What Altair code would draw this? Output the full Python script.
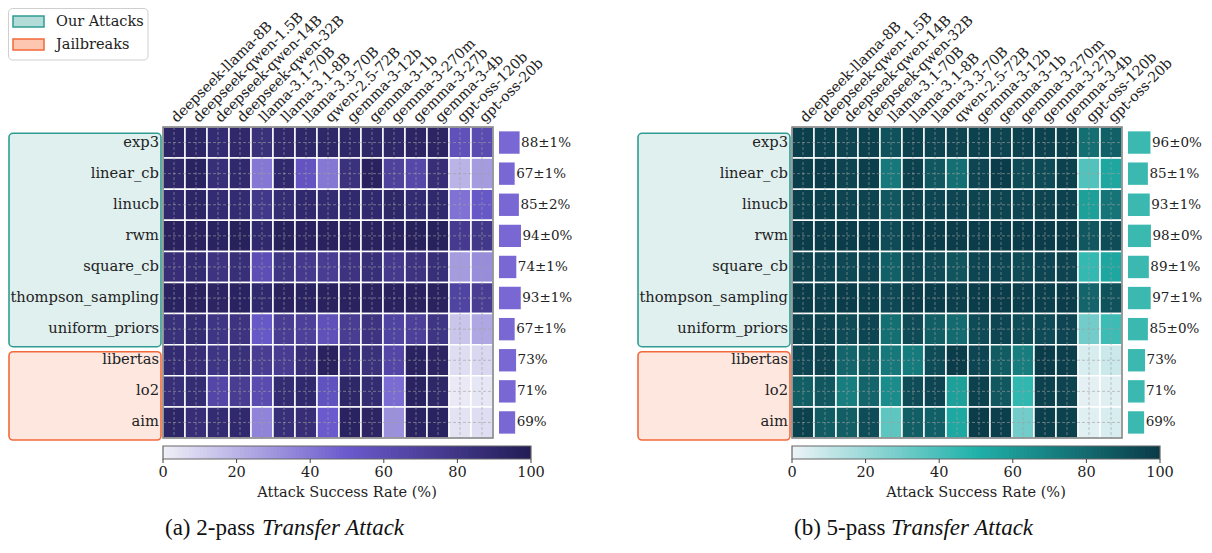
import altair as alt
import pandas as pd
import numpy as np

# ---------------- data ----------------
models = ["deepseek-llama-8B", "deepseek-qwen-1.5B", "deepseek-qwen-14B", "deepseek-qwen-32B",
          "llama-3.1-70B", "llama-3.1-8B", "llama-3.3-70B", "qwen-2.5-72B",
          "gemma-3-12b", "gemma-3-1b", "gemma-3-270m", "gemma-3-27b", "gemma-3-4b",
          "gpt-oss-120b", "gpt-oss-20b"]
attacks = ["exp3", "linear_cb", "linucb", "rwm", "square_cb", "thompson_sampling",
           "uniform_priors", "libertas", "lo2", "aim"]
n_ours = 7  # first 7 rows are "Our Attacks"

# 2-pass transfer attack (ASR %), one list per attack row
p2_exp3 = [93, 93, 88, 91, 84, 91, 92, 92, 92, 92, 92, 94, 94, 58, 62]
p2_linear_cb = [92, 95, 85, 90, 40, 90, 55, 40, 83, 96, 70, 65, 86, 20, 28]
p2_linucb = [90, 93, 88, 88, 78, 87, 90, 88, 90, 90, 92, 88, 90, 42, 52]
p2_rwm = [96, 96, 95, 97, 90, 97, 96, 96, 96, 96, 96, 97, 97, 76, 78]
p2_square_cb = [86, 88, 82, 85, 60, 80, 77, 74, 82, 85, 77, 82, 85, 28, 33]
p2_thompson = [95, 96, 94, 95, 90, 96, 95, 96, 96, 96, 96, 96, 96, 68, 74]
p2_uniform = [84, 87, 80, 82, 52, 74, 71, 58, 74, 82, 68, 71, 80, 14, 24]
p2_libertas = [88, 86, 80, 84, 74, 75, 86, 96, 88, 84, 66, 95, 94, 6, 8]
p2_lo2 = [85, 87, 66, 74, 62, 88, 90, 56, 92, 88, 44, 95, 92, 2, 3]
p2_aim = [93, 86, 88, 90, 36, 85, 86, 50, 95, 94, 32, 95, 95, 4, 6]

# 5-pass transfer attack (ASR %)
p5_exp3 = [98, 97, 96, 97, 90, 97, 96, 96, 97, 96, 97, 97, 97, 78, 84]
p5_linear_cb = [98, 99, 96, 98, 74, 97, 88, 78, 95, 99, 93, 93, 97, 38, 55]
p5_linucb = [97, 97, 96, 96, 88, 96, 95, 95, 96, 96, 95, 96, 97, 58, 76]
p5_rwm = [99, 99, 99, 99, 93, 99, 99, 99, 99, 99, 99, 99, 99, 88, 92]
p5_square_cb = [96, 95, 94, 95, 84, 94, 93, 89, 95, 95, 93, 95, 96, 45, 55]
p5_thompson = [99, 98, 99, 98, 94, 99, 99, 98, 99, 99, 98, 98, 99, 82, 90]
p5_uniform = [96, 96, 93, 95, 78, 93, 85, 80, 93, 95, 92, 93, 95, 30, 43]
p5_libertas = [95, 96, 82, 86, 74, 73, 92, 99, 95, 86, 72, 99, 98, 5, 8]
p5_lo2 = [85, 88, 72, 82, 66, 92, 95, 58, 97, 88, 46, 97, 96, 2, 3]
p5_aim = [97, 86, 85, 92, 35, 85, 84, 54, 99, 98, 30, 98, 97, 3, 5]

mean_2pass = [88, 67, 85, 94, 74, 93, 67, 73, 71, 69]
label_2pass = ["88±1%", "67±1%", "85±2%", "94±0%", "74±1%", "93±1%", "67±1%", "73%", "71%", "69%"]
mean_5pass = [96, 85, 93, 98, 89, 97, 85, 73, 71, 69]
label_5pass = ["96±0%", "85±1%", "93±1%", "98±0%", "89±1%", "97±1%", "85±0%", "73%", "71%", "69%"]

cbar_ticks = [0, 20, 40, 60, 80, 100]

rows_2pass = [p2_exp3, p2_linear_cb, p2_linucb, p2_rwm, p2_square_cb, p2_thompson,
              p2_uniform, p2_libertas, p2_lo2, p2_aim]
rows_5pass = [p5_exp3, p5_linear_cb, p5_linucb, p5_rwm, p5_square_cb, p5_thompson,
              p5_uniform, p5_libertas, p5_lo2, p5_aim]

# ---------------- layout (cell units) ----------------
CW = 22.0      # px per heatmap column
RH = 31.1      # px per heatmap row
PANEL_W = 567
PANEL_H = 531
HM_LEFT = 155  # px from panel left edge to heatmap left edge
HM_TOP = 119   # px from panel top to heatmap top


def ux(px):
    return px / CW


def uy(py):
    return py / RH


X_DOM = [ux(-HM_LEFT), ux(PANEL_W - HM_LEFT)]
Y_DOM = [uy(-HM_TOP), uy(PANEL_H - HM_TOP)]
xs = alt.Scale(domain=X_DOM, nice=False, zero=False)
ys = alt.Scale(domain=Y_DOM, nice=False, zero=False, reverse=True)

FONT = "DejaVu Serif"
CAP_FONT = "Liberation Serif"
TXT = "#222222"


def X(f="x"):
    return alt.X(f"{f}:Q", scale=xs, axis=None)


def Y(f="y"):
    return alt.Y(f"{f}:Q", scale=ys, axis=None)


def panel(rows, means, labels, cmap, bar_color, tag, show_legend):
    n_r, n_c = len(attacks), len(models)
    cscale = alt.Scale(domain=[0, 100], range=cmap, interpolate="rgb")

    cells = pd.DataFrame([{"x": c, "x2": c + 1, "y": r, "y2": r + 1, "v": rows[r][c]}
                          for r in range(n_r) for c in range(n_c)])
    heat = alt.Chart(cells).mark_rect(stroke="white", strokeWidth=1.5).encode(
        x=X(), x2="x2:Q", y=Y(), y2="y2:Q",
        color=alt.Color("v:Q", scale=cscale, legend=None))

    vgrid = pd.DataFrame({"x": [c + 0.5 for c in range(n_c)], "y": 0, "y2": n_r})
    hgrid = pd.DataFrame({"y": [r + 0.5 for r in range(n_r)], "x": 0, "x2": n_c})
    gl = dict(strokeDash=[3, 2], color="#a0a0a0", opacity=0.6, strokeWidth=1)
    vg = alt.Chart(vgrid).mark_rule(**gl).encode(x=X(), y=Y(), y2="y2:Q")
    hg = alt.Chart(hgrid).mark_rule(**gl).encode(y=Y(), x=X(), x2="x2:Q")

    frame = alt.Chart(pd.DataFrame([{"x": 0, "x2": n_c, "y": 0, "y2": n_r}])).mark_rect(
        fill=None, stroke="#7d7d7d", strokeWidth=1.5).encode(x=X(), x2="x2:Q", y=Y(), y2="y2:Q")

    # group boxes
    boxes = pd.DataFrame([
        {"x": ux(-154), "x2": ux(-2), "y": uy(6.3), "y2": uy(219.7), "g": "ours"},
        {"x": ux(-154), "x2": ux(-2), "y": uy(224.7), "y2": uy(313), "g": "jb"},
    ])
    gbox = alt.Chart(boxes).mark_rect(cornerRadius=4, strokeWidth=1.6).encode(
        x=X(), x2="x2:Q", y=Y(), y2="y2:Q",
        fill=alt.Fill("g:N", scale=alt.Scale(domain=["ours", "jb"], range=["#e0f0ef", "#fde7df"]), legend=None),
        stroke=alt.Stroke("g:N", scale=alt.Scale(domain=["ours", "jb"], range=["#2f9c93", "#f2693a"]), legend=None))

    rlab = pd.DataFrame({"t": attacks, "y": [r + 0.5 for r in range(n_r)], "x": ux(-4)})
    rowtext = alt.Chart(rlab).mark_text(align="right", baseline="middle", font=FONT,
                                        fontSize=14.7, color=TXT).encode(x=X(), y=Y(), text="t:N")

    clab = pd.DataFrame({"t": models, "x": [c + 0.5 for c in range(n_c)], "y": uy(-6.5)})
    coltext = alt.Chart(clab).mark_text(align="left", baseline="middle", angle=315, font=FONT,
                                        fontSize=14.2, color=TXT).encode(x=X(), y=Y(), text="t:N")

    # mean bars to the right
    b0 = ux(336)
    bars_df = pd.DataFrame({"m": means, "t": labels, "y": [r + 0.14 for r in range(n_r)],
                            "y2": [r + 0.86 for r in range(n_r)], "yc": [r + 0.5 for r in range(n_r)]})
    bars_df["x"] = b0
    bars_df["x2"] = b0 + bars_df["m"] * ux(0.234)
    bars_df["xt"] = bars_df["x2"] + ux(1.5)
    bars = alt.Chart(bars_df).mark_rect(color=bar_color).encode(x=X(), x2="x2:Q", y=Y(), y2="y2:Q")
    btext = alt.Chart(bars_df).mark_text(align="left", baseline="middle", font=FONT, fontSize=13.5,
                                         color=TXT).encode(x=X("xt"), y=Y("yc"), text="t:N")

    # colorbar
    CBW = ux(368)
    step = 1.0
    vv = np.arange(0, 100, step)
    cb = pd.DataFrame({"v": vv + step / 2, "x": vv * CBW / 100,
                       "x2": np.minimum((vv + step) * CBW / 100 + ux(1.5), CBW),
                       "y": uy(319), "y2": uy(332)})
    cbar = alt.Chart(cb).mark_rect(strokeWidth=0).encode(x=X(), x2="x2:Q", y=Y(), y2="y2:Q",
                                                          color=alt.Color("v:Q", scale=cscale, legend=None))
    cbframe = alt.Chart(pd.DataFrame([{"x": 0, "x2": CBW, "y": uy(319), "y2": uy(332)}])).mark_rect(
        fill=None, stroke="#666666", strokeWidth=1.2).encode(x=X(), x2="x2:Q", y=Y(), y2="y2:Q")
    tk = pd.DataFrame({"v": cbar_ticks})
    tk["x"] = tk["v"] * CBW / 100
    tk["y"] = uy(332)
    tk["y2"] = uy(336)
    tk["yt"] = uy(346)
    tk["t"] = tk["v"].astype(str)
    ticks = alt.Chart(tk).mark_rule(color="#444444", strokeWidth=1).encode(x=X(), y=Y(), y2="y2:Q")
    ticktext = alt.Chart(tk).mark_text(baseline="middle", font=FONT, fontSize=14.5, color=TXT).encode(
        x=X(), y=Y("yt"), text="t:N")
    cbt = alt.Chart(pd.DataFrame([{"x": CBW / 2, "y": uy(366), "t": "Attack Success Rate (%)"}])).mark_text(
        baseline="middle", font=FONT, fontSize=14.5, color=TXT).encode(x=X(), y=Y(), text="t:N")

    # caption
    cap = pd.DataFrame([{"x": ux(2), "y": uy(408), "t": tag}])
    cap2 = pd.DataFrame([{"x": ux(99), "y": uy(408), "t": "Transfer Attack"}])
    c1 = alt.Chart(cap).mark_text(align="left", baseline="alphabetic", font=CAP_FONT, fontSize=23,
                                  color="#111111").encode(x=X(), y=Y(), text="t:N")
    c2 = alt.Chart(cap2).mark_text(align="left", baseline="alphabetic", font=CAP_FONT, fontSize=23,
                                   fontStyle="italic", color="#111111").encode(x=X(), y=Y(), text="t:N")

    layers = [gbox, heat, vg, hg, frame, rowtext, coltext, bars, btext, cbar, cbframe, ticks,
              ticktext, cbt, c1, c2]

    if show_legend:
        lbox = alt.Chart(pd.DataFrame([{"x": ux(-154.5), "x2": ux(-15), "y": uy(-118.5), "y2": uy(-67)}])).mark_rect(
            fill="#ffffff", stroke="#cfcfcf", strokeWidth=1, cornerRadius=4).encode(
            x=X(), x2="x2:Q", y=Y(), y2="y2:Q")
        sw = pd.DataFrame([
            {"x": ux(-150), "x2": ux(-119), "y": uy(-111), "y2": uy(-100), "g": "Our Attacks", "yt": uy(-105.5)},
            {"x": ux(-150), "x2": ux(-119), "y": uy(-88), "y2": uy(-77), "g": "Jailbreaks", "yt": uy(-82.5)},
        ])
        sw["xt"] = ux(-107)
        swr = alt.Chart(sw).mark_rect(strokeWidth=1.5).encode(
            x=X(), x2="x2:Q", y=Y(), y2="y2:Q",
            fill=alt.Fill("g:N", scale=alt.Scale(domain=["Our Attacks", "Jailbreaks"],
                                                 range=["#b3dcd9", "#fdc6b1"]), legend=None),
            stroke=alt.Stroke("g:N", scale=alt.Scale(domain=["Our Attacks", "Jailbreaks"],
                                                     range=["#2f9c93", "#f2693a"]), legend=None))
        swt = alt.Chart(sw).mark_text(align="left", baseline="middle", font=FONT, fontSize=14.5,
                                      color=TXT).encode(x=X("xt"), y=Y("yt"), text="g:N")
        layers += [lbox, swr, swt]

    return alt.layer(*layers).resolve_scale(fill="independent", stroke="independent").properties(
        width=PANEL_W, height=PANEL_H)


purple = ["#efeff7", "#6a5acd", "#231d55"]
teal = ["#ecf3f7", "#20b2aa", "#0b3a48"]

left = panel(rows_2pass, mean_2pass, label_2pass, purple, "#7968d4", "(a) 2-pass ", True)
right = panel(rows_5pass, mean_5pass, label_5pass, teal, "#3bb9b0", "(b) 5-pass ", False)

chart = alt.hconcat(left, right, spacing=62, bounds="flush").resolve_scale(
    color="independent", x="independent", y="independent", fill="independent", stroke="independent"
).properties(padding=0).configure_view(stroke=None)

chart.save("out.html", embed_options={"renderer": "svg", "actions": False})
